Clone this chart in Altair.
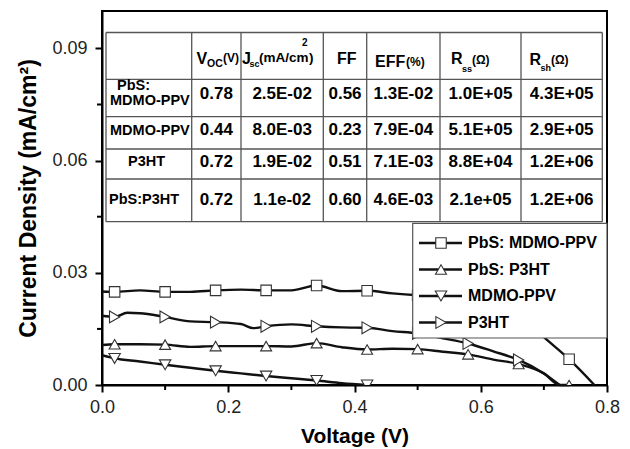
import altair as alt
import pandas as pd

# ---------------- data ----------------
series_names = ["PbS: MDMO-PPV", "PbS: P3HT", "MDMO-PPV", "P3HT"]
series_shapes = ["square", "triangle-up", "triangle-down", "triangle-right"]

v_pbs_mdmo = [0.00, 0.02, 0.06, 0.10, 0.14, 0.18, 0.22, 0.26, 0.30, 0.34, 0.38,
              0.42, 0.46, 0.50, 0.54, 0.58, 0.62, 0.66, 0.70, 0.74, 0.78]
j_pbs_mdmo = [0.0250, 0.0249, 0.0253, 0.0249, 0.0249, 0.0253, 0.0255, 0.0253, 0.0253, 0.0266, 0.0251,
              0.0252, 0.0245, 0.0240, 0.0237, 0.0230, 0.0215, 0.0190, 0.0128, 0.0069, 0.0]

v_pbs_p3ht = [0.00, 0.02, 0.06, 0.10, 0.14, 0.18, 0.22, 0.26, 0.30, 0.34, 0.38,
              0.42, 0.46, 0.50, 0.54, 0.58, 0.62, 0.66, 0.70, 0.725, 0.74]
j_pbs_p3ht = [0.0107, 0.0109, 0.0109, 0.0108, 0.0102, 0.0104, 0.0104, 0.0104, 0.0103, 0.0112, 0.0101,
              0.0095, 0.0097, 0.0096, 0.0089, 0.0082, 0.0068, 0.0056, 0.0031, 0.0, 0.0]

v_mdmo = [0.00, 0.02, 0.06, 0.10, 0.14, 0.18, 0.22, 0.26, 0.30, 0.34, 0.38, 0.42]
j_mdmo = [0.0080, 0.0071, 0.0063, 0.0054, 0.0046, 0.0038, 0.0031, 0.0024, 0.0018, 0.0012, 0.0005, 0.0]

v_p3ht = [0.00, 0.02, 0.04, 0.06, 0.10, 0.14, 0.18, 0.22, 0.24, 0.26, 0.30,
          0.34, 0.38, 0.42, 0.46, 0.50, 0.54, 0.58, 0.62, 0.66, 0.70, 0.725]
j_p3ht = [0.0185, 0.0182, 0.0193, 0.0192, 0.0182, 0.0170, 0.0168, 0.0163, 0.0152, 0.0157, 0.0162,
          0.0157, 0.0154, 0.0153, 0.0144, 0.0138, 0.0125, 0.0111, 0.0090, 0.0067, 0.0031, 0.0]

marker_start, marker_step = 0.02, 0.08

x_ticks = [0.0, 0.2, 0.4, 0.6, 0.8]
x_minor = [0.1, 0.3, 0.5, 0.7]
y_ticks = [0.0, 0.03, 0.06, 0.09]
y_minor = [0.015, 0.045, 0.075]

# table contents
row_voc = ["0.78", "0.44", "0.72", "0.72"]
row_jsc = ["2.5E-02", "8.0E-03", "1.9E-02", "1.1e-02"]
row_ff = ["0.56", "0.23", "0.51", "0.60"]
row_eff = ["1.3E-02", "7.9E-04", "7.1E-03", "4.6E-03"]
row_rss = ["1.0E+05", "5.1E+05", "8.8E+04", "2.1e+05"]
row_rsh = ["4.3E+05", "2.9E+05", "1.2E+06", "1.2E+06"]
row_label_lines = ["PbS:", "MDMO-PPV", "MDMO-PPV", "P3HT", "PbS:P3HT"]

# ---------------- layout (page pixels) ----------------
X0, Y0 = 102.0, 11.0
W, H = 505, 374
FONT = "Liberation Sans"

col_edges = [106, 191.7, 241, 323.3, 366.7, 440, 521, 602.3]
row_edges = [32.5, 79.3, 116.7, 149, 179, 221.7]
value_baselines = [99, 135, 166.7, 205]
row_label_pos = [(117, 90), (110, 104.5), (110, 134.5), (128, 166), (109, 204)]

# header pieces: text, left x, baseline y, font size
header_pieces = [
    ("V", 196.5, 63.5, 16), ("OC", 207, 67, 10.5), ("(V)", 223, 61.5, 12),
    ("J", 242, 63.5, 16), ("sc", 249.5, 67, 9), ("(mA/cm", 259, 61.5, 13.5),
    ("2", 302, 46, 10), (")", 309, 61.5, 13.5),
    ("FF", 337, 63.5, 16),
    ("EFF", 375, 67, 16), ("(%)", 406, 66, 12),
    ("R", 451, 63.5, 16), ("ss", 462, 72, 9), ("(Ω)", 472, 64, 12),
    ("R", 529.5, 65, 16), ("sh", 540.5, 71, 9), ("(Ω)", 551, 64, 12),
]

legend_box = (412.7, 223.3, 607.0, 338.0)
legend_rows_y = [243, 269.5, 296, 322.5]
legend_line_x = (419, 462)
legend_marker_x = 441
legend_text_x = 468

# ---------------- build frames ----------------
frames = []
for name, vs, js in [(series_names[0], v_pbs_mdmo, j_pbs_mdmo),
                     (series_names[1], v_pbs_p3ht, j_pbs_p3ht),
                     (series_names[2], v_mdmo, j_mdmo),
                     (series_names[3], v_p3ht, j_p3ht)]:
    d = pd.DataFrame({"V": vs, "J": js})
    d["series"] = name
    k = (d["V"] - marker_start) / marker_step
    d["marker"] = (k - k.round()).abs() < 1e-6
    frames.append(d)
curves = pd.concat(frames, ignore_index=True)
markers = curves[curves["marker"]]

shape_scale = alt.Scale(domain=series_names, range=series_shapes)
size_scale = alt.Scale(domain=series_names, range=[110, 140, 140, 140])

x_scale = alt.Scale(domain=[0, 0.8], nice=False, zero=False)
y_scale = alt.Scale(domain=[0, 0.1], nice=False, zero=False)

x_axis = alt.Axis(values=x_ticks, format=".1f", title="Voltage (V)", grid=False,
                  labelFont=FONT, labelFontSize=18, labelColor="#222", labelPadding=6,
                  labelFlush=False, labelOverlap=False,
                  tickSize=7, tickWidth=2, tickColor="black",
                  domainColor="black", domainWidth=2,
                  titleFont=FONT, titleFontSize=21, titleFontWeight="bold",
                  titleColor="black", titlePadding=9)
y_axis = alt.Axis(values=y_ticks, format=".2f", title="Current Density (mA/cm²)", grid=False,
                  labelFont=FONT, labelFontSize=18, labelColor="#222", labelPadding=8,
                  labelFlush=False, labelOverlap=False,
                  tickSize=7, tickWidth=2, tickColor="black",
                  domainColor="black", domainWidth=2,
                  titleFont=FONT, titleFontSize=23, titleFontWeight="bold",
                  titleColor="black", titlePadding=11)

lines = alt.Chart(curves).mark_line(color="#111", strokeWidth=2.4, interpolate="monotone").encode(
    x=alt.X("V:Q", scale=x_scale, axis=x_axis),
    y=alt.Y("J:Q", scale=y_scale, axis=y_axis),
    detail="series:N",
)

points = alt.Chart(markers).mark_point(filled=True, fill="white", stroke="#333",
                                       strokeWidth=1.1, opacity=1, clip=True).encode(
    x=alt.X("V:Q", scale=x_scale, axis=x_axis),
    y=alt.Y("J:Q", scale=y_scale, axis=y_axis),
    shape=alt.Shape("series:N", scale=shape_scale, legend=None),
    size=alt.Size("series:N", scale=size_scale, legend=None),
)

ytick_minor = alt.Chart(pd.DataFrame({"J": y_minor})).mark_rule(color="black", strokeWidth=2).encode(
    y=alt.Y("J:Q", scale=y_scale, axis=y_axis),
    x=alt.value(0), x2=alt.value(-5),
)
xtick_minor = alt.Chart(pd.DataFrame({"V": x_minor})).mark_rule(color="black", strokeWidth=2).encode(
    x=alt.X("V:Q", scale=x_scale, axis=x_axis),
    y=alt.value(H), y2=alt.value(H + 5),
)

# table grid
segs = []
for ry in row_edges:
    segs.append({"px": col_edges[0] - X0, "px2": col_edges[-1] - X0, "py": ry - Y0, "py2": ry - Y0})
for cx in col_edges:
    segs.append({"px": cx - X0, "px2": cx - X0, "py": row_edges[0] - Y0, "py2": row_edges[-1] - Y0})
table_lines = alt.Chart(pd.DataFrame(segs)).mark_rule(color="#555", strokeWidth=1.3).encode(
    x=alt.X("px:Q", scale=None), x2="px2:Q",
    y=alt.Y("py:Q", scale=None), y2="py2:Q",
)

# table values
cells = []
cols = [row_voc, row_jsc, row_ff, row_eff, row_rss, row_rsh]
for ci, col in enumerate(cols):
    cx = (col_edges[ci + 1] + col_edges[ci + 2]) / 2 - X0
    for ri, txt in enumerate(col):
        cells.append({"t": txt, "px": cx, "py": value_baselines[ri] - Y0})
table_values = alt.Chart(pd.DataFrame(cells)).mark_text(
    font=FONT, fontSize=17, fontWeight="bold", color="black", align="center", baseline="alphabetic"
).encode(x=alt.X("px:Q", scale=None), y=alt.Y("py:Q", scale=None), text="t:N")

labels = [{"t": t, "px": p[0] - X0, "py": p[1] - Y0} for t, p in zip(row_label_lines, row_label_pos)]
table_labels = alt.Chart(pd.DataFrame(labels)).mark_text(
    font=FONT, fontSize=14.5, fontWeight="bold", color="black", align="left", baseline="alphabetic"
).encode(x=alt.X("px:Q", scale=None), y=alt.Y("py:Q", scale=None), text="t:N")

heads = [{"t": t, "px": x - X0, "py": y - Y0, "fs": fs} for t, x, y, fs in header_pieces]
table_head = alt.Chart(pd.DataFrame(heads)).mark_text(
    font=FONT, fontWeight="bold", color="black", align="left", baseline="alphabetic"
).encode(x=alt.X("px:Q", scale=None), y=alt.Y("py:Q", scale=None), text="t:N",
         size=alt.Size("fs:Q", scale=None, legend=None))

# legend
lb = legend_box
legend_rect = alt.Chart(pd.DataFrame({"a": [0]})).mark_rect(
    fill="white", stroke="#555", strokeWidth=1.2).encode(
    x=alt.value(lb[0] - X0), x2=alt.value(lb[2] - X0),
    y=alt.value(lb[1] - Y0), y2=alt.value(lb[3] - Y0),
)
leg = pd.DataFrame({"series": series_names, "py": [v - Y0 for v in legend_rows_y]})
legend_lines = alt.Chart(leg).mark_rule(color="#111", strokeWidth=2.4).encode(
    y=alt.Y("py:Q", scale=None),
    x=alt.value(legend_line_x[0] - X0), x2=alt.value(legend_line_x[1] - X0),
)
legend_points = alt.Chart(leg).mark_point(filled=True, fill="white", stroke="#333",
                                          strokeWidth=1.1, opacity=1).encode(
    y=alt.Y("py:Q", scale=None),
    x=alt.value(legend_marker_x - X0),
    shape=alt.Shape("series:N", scale=shape_scale, legend=None),
    size=alt.Size("series:N", scale=size_scale, legend=None),
)
legend_text = alt.Chart(leg).mark_text(
    font=FONT, fontSize=16, fontWeight="bold", color="black", align="left", baseline="middle"
).encode(y=alt.Y("py:Q", scale=None), x=alt.value(legend_text_x - X0), text="series:N")

chart = alt.layer(
    lines, points, ytick_minor, xtick_minor,
    table_lines, table_values, table_labels, table_head,
    legend_rect, legend_lines, legend_points, legend_text,
).properties(
    width=W, height=H,
    autosize=alt.AutoSizeParams(type="none"),
    padding={"left": X0, "top": Y0, "right": 630 - X0 - W, "bottom": 449 - Y0 - H},
    background="white",
).configure_view(stroke="black", strokeWidth=2)

chart.save("out.html", embed_options={"renderer": "svg", "actions": False})
